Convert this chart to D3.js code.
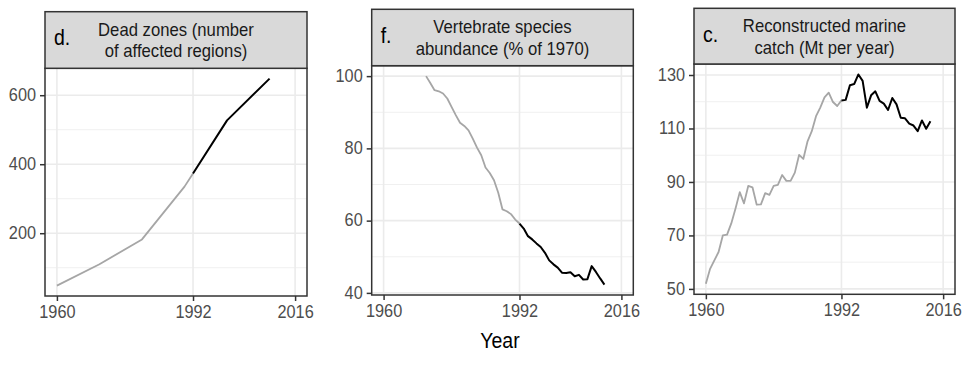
<!DOCTYPE html>
<html>
<head>
<meta charset="utf-8">
<script src="https://cdn.jsdelivr.net/npm/d3@7"></script>
<style>
  html, body { margin: 0; padding: 0; background: #fff; }
  svg { display: block; font-family: "Liberation Sans", Arial, sans-serif; }
</style>
</head>
<body>
<svg id="chart" width="980" height="368"></svg>
<script>
// ---------- data ----------
const xTicks = [1960, 1992, 2016];
const xDataRange = [1960, 2016];
const splitYear = 1992;

// d. Dead zones
const deadYears  = [1960, 1970, 1980, 1990, 1992, 2000, 2010];
const deadValues = [48, 110, 182, 335, 373, 527, 648];
const deadTicks  = [200, 400, 600];

// f. Vertebrate species abundance
const vertYears  = [1970,1971,1972,1973,1974,1975,1976,1977,1978,1979,1980,1981,1982,1983,1984,1985,1986,1987,1988,1989,1990,1991,
                    1992,1993,1994,1995,1996,1997,1998,1999,2000,2001,2002,2003,2004,2005,2006,2007,2008,2009,2010,2011,2012];
const vertValues = [100,98.1,96.1,95.8,95.2,93.8,91.5,89.2,87.1,86.2,85,82.7,80.2,78.1,74.7,73.2,71.2,67.7,63.1,62.6,61.8,60.3,
                    59.2,57.8,55.7,54.8,53.7,52.7,51.1,49,47.9,47,45.6,45.5,45.7,44.6,45,43.7,43.8,47.4,45.8,44,42.3];
const vertTicks  = [40, 60, 80, 100];

// c. Reconstructed marine catch
const catchYears  = [1960,1961,1962,1963,1964,1965,1966,1967,1968,1969,1970,1971,1972,1973,1974,1975,1976,1977,1978,1979,1980,1981,
                     1982,1983,1984,1985,1986,1987,1988,1989,1990,1991,1992,1993,1994,1995,1996,1997,1998,1999,2000,2001,2002,2003,
                     2004,2005,2006,2007,2008,2009,2010,2011,2012,2013];
const catchValues = [51.9,57.5,60.7,63.8,70,70.3,74.5,80.1,86.2,82,88.5,88,81.5,81.6,85.8,85.2,88.5,88.9,92.6,90.4,90.4,93.5,
                     100.1,98.6,105.2,109,114.6,117.8,121.6,123.4,119.9,118.4,120.5,120.7,126.2,126.6,130.2,127.8,117.8,122.4,123.9,120.3,119.3,116.9,
                     121.4,119,114,113.8,111.8,111.1,109,113,109.9,112.7];
const catchTicks  = [50, 70, 90, 110, 130];

// ---------- layout ----------
const panels = [
  { tag: "d.", title: ["Dead zones (number", "of affected regions)"], years: deadYears, values: deadValues, ticks: deadTicks,
    left: 45, right: 307, stripTop: 11.7, top: 68.3, bottom: 296 },
  { tag: "f.", title: ["Vertebrate species", "abundance (% of 1970)"], years: vertYears, values: vertValues, ticks: vertTicks,
    left: 371.7, right: 633.3, stripTop: 9.3, top: 65.7, bottom: 295 },
  { tag: "c.", title: ["Reconstructed marine", "catch (Mt per year)"], years: catchYears, values: catchValues, ticks: catchTicks,
    left: 694, right: 955, stripTop: 8.3, top: 64, bottom: 294.3 }
];

const SY = 1.1; // vertical text stretch seen in the reference
const svg = d3.select("#chart");

function expand(ext, m) { const r = ext[1] - ext[0]; return [ext[0] - r * m, ext[1] + r * m]; }
function stretchedText(sel, x, y) {
  return sel.append("text").attr("transform", `translate(${x},${y}) scale(1,${SY})`);
}

panels.forEach(p => {
  const g = svg.append("g");
  const x = d3.scaleLinear().domain(expand(xDataRange, 0.05)).range([p.left, p.right]);
  const y = d3.scaleLinear().domain(expand(d3.extent(p.values), 0.05)).range([p.bottom, p.top]);

  // minor y grid
  const step = p.ticks[1] - p.ticks[0];
  const minor = [];
  const [y0, y1] = y.domain();
  for (let v = p.ticks[0] - step / 2; v <= y1; v += step) if (v >= y0) minor.push(v);
  g.selectAll(".minor").data(minor).join("line")
    .attr("x1", p.left).attr("x2", p.right)
    .attr("y1", d => y(d)).attr("y2", d => y(d))
    .attr("stroke", "#f0f0f0").attr("stroke-width", 1);
  // major y grid
  g.selectAll(".majy").data(p.ticks).join("line")
    .attr("x1", p.left).attr("x2", p.right)
    .attr("y1", d => y(d)).attr("y2", d => y(d))
    .attr("stroke", "#ebebeb").attr("stroke-width", 1.6);
  // major x grid
  g.selectAll(".majx").data(xTicks).join("line")
    .attr("x1", d => x(d)).attr("x2", d => x(d))
    .attr("y1", p.top).attr("y2", p.bottom)
    .attr("stroke", "#ebebeb").attr("stroke-width", 1.6);

  // lines
  const pts = p.years.map((yr, i) => ({ yr, v: p.values[i] }));
  const line = d3.line().x(d => x(d.yr)).y(d => y(d.v));
  const before = pts.filter(d => d.yr <= splitYear);
  const after = pts.filter(d => d.yr >= splitYear);
  g.append("path").datum(before).attr("d", line)
    .attr("fill", "none").attr("stroke", "#a6a6a6").attr("stroke-width", 1.8).attr("stroke-linejoin", "round");
  g.append("path").datum(after).attr("d", line)
    .attr("fill", "none").attr("stroke", "#000").attr("stroke-width", 2).attr("stroke-linejoin", "round");

  // panel border
  g.append("rect").attr("x", p.left).attr("y", p.top)
    .attr("width", p.right - p.left).attr("height", p.bottom - p.top)
    .attr("fill", "none").attr("stroke", "#333").attr("stroke-width", 1.5);

  // strip
  g.append("rect").attr("x", p.left).attr("y", p.stripTop)
    .attr("width", p.right - p.left).attr("height", p.top - p.stripTop)
    .attr("fill", "#d9d9d9").attr("stroke", "#333").attr("stroke-width", 1.5);
  const cx = (p.left + p.right) / 2;
  p.title.forEach((t, i) => {
    stretchedText(g, cx, p.stripTop + 24 + i * 21.5)
      .attr("text-anchor", "middle").attr("font-size", 16.7).attr("fill", "#1a1a1a").text(t);
  });
  stretchedText(g, p.left + 9, p.stripTop + 33.5)
    .attr("font-size", 19.5).attr("fill", "#000").text(p.tag);

  // axes
  const ax = g.append("g").attr("transform", `translate(0,${p.bottom})`)
    .call(d3.axisBottom(x).tickValues(xTicks).tickFormat(d3.format("d")).tickSize(5).tickPadding(3));
  const ay = g.append("g").attr("transform", `translate(${p.left},0)`)
    .call(d3.axisLeft(y).tickValues(p.ticks).tickFormat(d3.format("d")).tickSize(5).tickPadding(4));
  [ax, ay].forEach(a => {
    a.select(".domain").remove();
    a.selectAll(".tick line").attr("stroke", "#333").attr("stroke-width", 1.5);
    a.selectAll(".tick text").attr("fill", "#4d4d4d").attr("font-size", 16.3)
      .attr("font-family", "Liberation Sans, Arial, sans-serif");
  });
  ax.selectAll(".tick text").attr("transform", `scale(1,${SY})`);
  ay.selectAll(".tick text").attr("transform", `scale(1,${SY})`).attr("dy", "0.29em");
});

stretchedText(svg, 500, 348).attr("text-anchor", "middle")
  .attr("font-size", 19.5).attr("fill", "#000").text("Year");
</script>
</body>
</html>
